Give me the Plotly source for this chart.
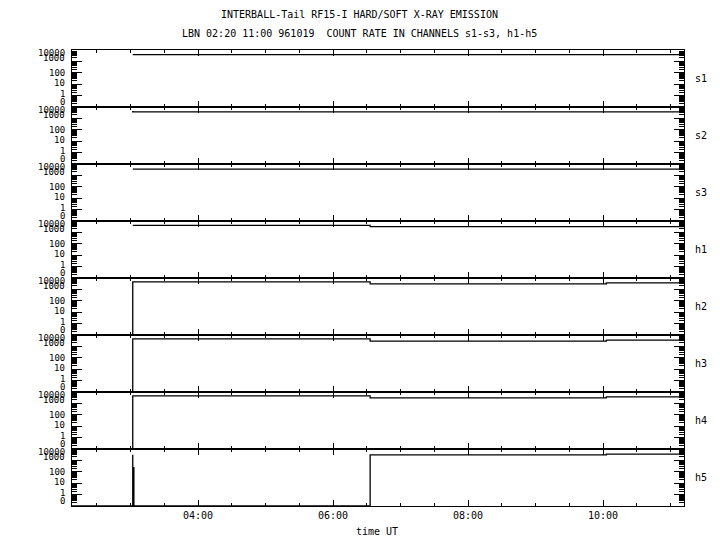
import plotly.graph_objects as go

DAY = "1996-10-19 "

channels = ["s1", "s2", "s3", "h1", "h2", "h3", "h4", "h5"]

s1_t = ["03:02", "11:12"]
s1_v = [4000, 4000]
s2_t = ["03:02", "03:02", "11:12"]
s2_v = [4500, 3700, 3700]
s3_t = ["03:02", "11:12"]
s3_v = [3500, 3500]
h1_t = ["03:02", "06:33", "11:12"]
h1_v = [4100, 3200, 3200]
h2_t = ["03:02", "03:02", "06:33", "10:03", "11:12"]
h2_v = [0, 4500, 3000, 3700, 3700]
h3_t = ["03:02", "03:02", "06:33", "10:03", "11:12"]
h3_v = [0, 4500, 2900, 3500, 3500]
h4_t = ["03:02", "03:02", "06:33", "10:03", "11:12"]
h4_v = [0, 4600, 3000, 3700, 3700]
h5_t = ["02:08", "03:02", "03:02", "03:02", "03:02", "03:02", "03:03", "06:33", "10:03", "11:12"]
h5_v = [0, 3200, 250, 3000, 230, 230, 0, 3000, 3500, 3500]

series_t = [s1_t, s2_t, s3_t, h1_t, h2_t, h3_t, h4_t, h5_t]
series_v = [s1_v, s2_v, s3_v, h1_v, h2_v, h3_v, h4_v, h5_v]

ytick_vals = [0, 1, 10, 100, 1000, 10000]
ytick_text = ["0", "1", "10", "100", "1000", "10000"]
ZERO_FLOOR = 0.1  # where "0" sits on the log axis

xtick_major_ms = 2 * 3600 * 1000
xtick_minor_ms = 30 * 60 * 1000

title1 = "INTERBALL-Tail RF15-I HARD/SOFT X-RAY EMISSION"
title2 = "LBN 02:20 11:00 961019  COUNT RATE IN CHANNELS s1-s3, h1-h5"
xtitle = "time UT"

FONT = "DejaVu Sans Mono"
n = len(channels)

fig = go.Figure()
annotations = []
minor_vals = [k * 10 ** d for d in range(-1, 4) for k in range(2, 10)]
label_shift = {0: 5, 1: 2, 10: 1, 100: 0, 1000: 3, 10000: -3}

for i, (name, t, v) in enumerate(zip(channels, series_t, series_v)):
    k = "" if i == 0 else str(i + 1)
    fig.add_trace(go.Scatter(
        x=[DAY + s for s in t],
        y=[val if val > 0 else ZERO_FLOOR for val in v],
        mode="lines", line=dict(color="black", width=1.3, shape="hv"),
        xaxis="x" + k, yaxis="y" + k, showlegend=False, hoverinfo="skip"))
    top = 1 - i / n
    bot = 1 - (i + 1) / n
    fig.layout["yaxis" + k] = dict(
        type="log", range=[-1, 4], domain=[bot, top], anchor="x" + k,
        tickvals=[tv if tv > 0 else ZERO_FLOOR for tv in ytick_vals],
        showticklabels=False, ticks="inside", ticklen=10, tickwidth=1,
        tickcolor="black", mirror="ticks", showline=True, linecolor="black",
        linewidth=1, showgrid=False, zeroline=False,
        minor=dict(tickmode="array", tickvals=minor_vals, ticks="inside",
                   ticklen=5, tickwidth=1, tickcolor="black"))
    fig.layout["xaxis" + k] = dict(
        type="date", range=[DAY + "02:08", DAY + "11:12"], anchor="y" + k,
        tickmode="linear", tick0=DAY + "00:00", dtick=xtick_major_ms,
        tickformat="%H:%M", ticks="inside", ticklen=6, tickwidth=1,
        tickcolor="black", mirror="ticks", showline=True, linecolor="black",
        linewidth=1, showgrid=False, zeroline=False,
        showticklabels=(i == n - 1),
        tickfont=dict(family=FONT, size=10, color="black"),
        minor=dict(tick0=DAY + "00:00", dtick=xtick_minor_ms, ticks="inside",
                   ticklen=3, tickwidth=1, tickcolor="black"),
        matches=None if i == 0 else "x")
    for tv, tt in zip(ytick_vals, ytick_text):
        annotations.append(dict(
            x=0, xref="paper", xanchor="right", xshift=-5,
            y=(-1 if tv == 0 else len(str(tv)) - 1), yref="y" + k,
            yanchor="middle", yshift=label_shift[tv], text=tt, showarrow=False,
            font=dict(family=FONT, size=9, color="black")))
    annotations.append(dict(
        x=1, xref="paper", xanchor="left", xshift=9,
        y=(top + bot) / 2, yref="paper", yanchor="middle", text=name,
        showarrow=False, font=dict(family=FONT, size=10, color="black")))

annotations += [
    dict(x=0.469, xref="paper", xanchor="center", y=1, yref="paper",
         yanchor="middle", yshift=36, text=title1, showarrow=False,
         font=dict(family=FONT, size=10, color="black")),
    dict(x=0.469, xref="paper", xanchor="center", y=1, yref="paper",
         yanchor="middle", yshift=17, text=title2, showarrow=False,
         font=dict(family=FONT, size=10, color="black")),
    dict(x=0.498, xref="paper", xanchor="center", y=0, yref="paper",
         yanchor="middle", yshift=-25, text=xtitle, showarrow=False,
         font=dict(family=FONT, size=10, color="black")),
]

fig.update_layout(
    width=712, height=542, margin=dict(l=64, r=36, t=42, b=44),
    paper_bgcolor="white", plot_bgcolor="white", annotations=annotations,
    font=dict(family=FONT, size=10, color="black"))

fig.write_html("out.html")
